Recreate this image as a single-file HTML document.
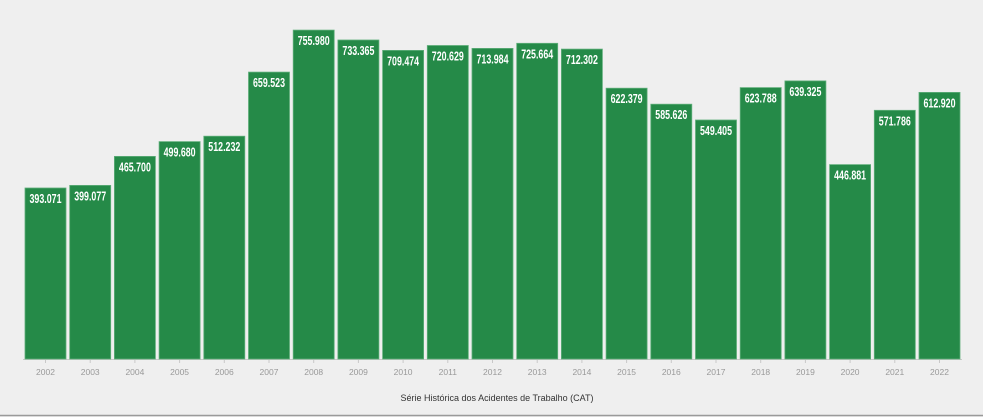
<!DOCTYPE html>
<html><head><meta charset="utf-8"><style>
html,body{margin:0;padding:0;background:#efefef;}
svg{display:block;}
</style></head><body>
<svg id="c" width="983" height="417" xmlns="http://www.w3.org/2000/svg">
<rect width="983" height="417" fill="#efefef"/>
<line x1="0" y1="415.5" x2="983" y2="415.5" stroke="#9a9a9a" stroke-width="1.5"/>
<line x1="23" y1="359.5" x2="962" y2="359.5" stroke="#c8c8c8" stroke-width="1"/>
<g id="bars"></g>
<text x="497" y="401" font-family="Liberation Sans, sans-serif" font-size="9" fill="#333" text-anchor="middle">Série Histórica dos Acidentes de Trabalho (CAT)</text>
</svg>
<script>
(function(){
var vals=[393071,399077,465700,499680,512232,659523,755980,733365,709474,720629,713984,725664,712302,622379,585626,549405,623788,639325,446881,571786,612920];
var grp=document.getElementById('bars'),out='';
var base=359,sc=171/393071;
for(var i=0;i<vals.length;i++){
 var bx=25+i*44.7,ty=base-vals[i]*sc,cx=bx+20.5;
 out+='<rect x="'+bx.toFixed(1)+'" y="'+ty.toFixed(1)+'" width="41" height="'+(base-ty).toFixed(1)+'" fill="#258a48" stroke="#5fae7a" stroke-width="0.8"/>';
 var s=(vals[i]/1000).toFixed(3);
 out+='<text x="'+cx.toFixed(1)+'" y="'+(ty+15).toFixed(1)+'" font-family="Liberation Sans Narrow, Liberation Sans, sans-serif" font-weight="bold" font-size="13" fill="#fff" text-anchor="middle" textLength="32" lengthAdjust="spacingAndGlyphs">'+s+'</text>';
 out+='<line x1="'+cx.toFixed(1)+'" y1="360" x2="'+cx.toFixed(1)+'" y2="363" stroke="#c8c8c8"/>';
 out+='<text x="'+cx.toFixed(1)+'" y="375" font-family="Liberation Sans, sans-serif" font-size="8.5" fill="#999" text-anchor="middle">'+(2002+i)+'</text>';
}
grp.innerHTML=out;
})();
</script>
</body></html>
